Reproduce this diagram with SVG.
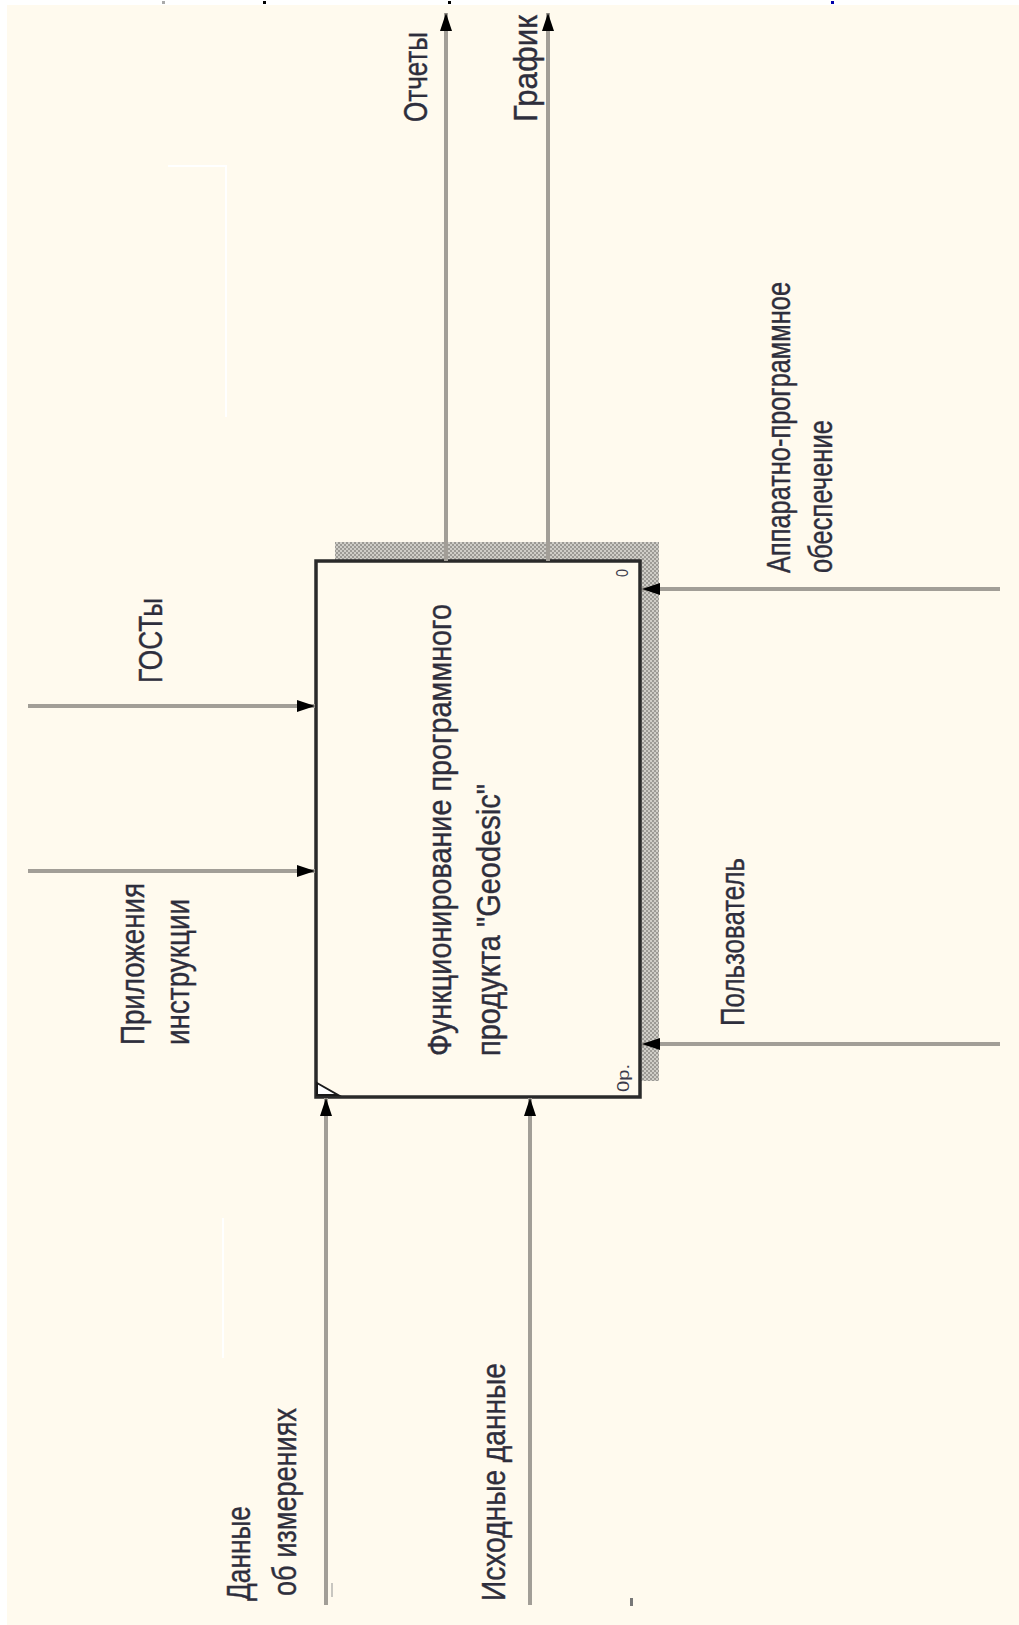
<svg xmlns="http://www.w3.org/2000/svg" width="1019" height="1625" viewBox="0 0 1019 1625">
  <defs>
    <pattern id="checker" width="4" height="4" patternUnits="userSpaceOnUse">
      <rect width="4" height="4" fill="#cfcdc7"/>
      <rect width="2" height="2" fill="#9c9a95"/>
      <rect x="2" y="2" width="2" height="2" fill="#9c9a95"/>
    </pattern>
    <marker id="arrow" viewBox="0 0 18 12" markerWidth="18" markerHeight="12" refX="18" refY="6" orient="auto" markerUnits="userSpaceOnUse">
      <path d="M0,0 L18,6 L0,12 Z" fill="#000"/>
    </marker>
    <style>
      .lbl { font-family: "Liberation Sans", Arial, sans-serif; font-size: 34px; fill: #2e2e3c; stroke: #2e2e3c; stroke-width: 0.4; }
      .num { font-family: "Liberation Sans", Arial, sans-serif; font-size: 16px; fill: #3a3a4a; }
      .conn { fill: none; stroke: #a29e97; stroke-width: 4; marker-end: url(#arrow); }
      .faint { fill: none; stroke: #ffffff; stroke-width: 2; }
    </style>
  </defs>

  <!-- page background -->
  <rect x="0" y="0" width="1019" height="1625" fill="#ffffff"/>
  <rect x="7" y="5" width="1012" height="1620" fill="#fffaee"/>

  <!-- small marks at the top edge -->
  <g id="top-marks">
    <rect x="162" y="1" width="3" height="3" fill="#aaaaaa"/>
    <rect x="263" y="1" width="3" height="3" fill="#000000"/>
    <rect x="448" y="1" width="3" height="3" fill="#000000"/>
    <rect x="831" y="1" width="3" height="3" fill="#0000aa"/>
  </g>

  <!-- faint artefacts -->
  <g id="artefacts">
    <path class="faint" d="M168,166 H226 V417"/>
    <path class="faint" d="M467,700 V835" stroke-dasharray="8 5"/>
    <path class="faint" d="M223,1218 V1358"/>
    <rect x="331" y="1583" width="2" height="14" fill="#c8c6c0"/>
    <rect x="630" y="1598" width="3" height="8" fill="#777777"/>
  </g>

  <!-- activity box A0 -->
  <g id="node-a0">
    <rect x="335" y="542" width="324" height="539" fill="url(#checker)"/>
    <rect x="316" y="561" width="324" height="536" fill="#fffaee" stroke="#2a2a2a" stroke-width="3.5"/>
    <path d="M317,1083 L338,1095 L317,1095 Z" fill="#ffffff" stroke="#1a1a1a" stroke-width="2"/>
    <text class="lbl" transform="translate(451,1056) rotate(-90)" textLength="452" lengthAdjust="spacingAndGlyphs">Функционирование программного</text>
    <text class="lbl" transform="translate(500,1056) rotate(-90)" textLength="272" lengthAdjust="spacingAndGlyphs">продукта "Geodesic"</text>
    <text class="num" transform="translate(628,577) rotate(-90)" textLength="8" lengthAdjust="spacingAndGlyphs">0</text>
    <text class="num" transform="translate(629,1092) rotate(-90)" textLength="28" lengthAdjust="spacingAndGlyphs">0р.</text>
  </g>

  <!-- connectors -->
  <g id="connectors">
    <!-- outputs (top) -->
    <path class="conn" d="M446,561 V13"/>
    <path class="conn" d="M548,561 V13"/>
    <!-- controls (left) -->
    <path class="conn" d="M28,706 H315"/>
    <path class="conn" d="M28,871 H315"/>
    <!-- inputs (bottom) -->
    <path class="conn" d="M326,1605 V1098"/>
    <path class="conn" d="M530,1605 V1098"/>
    <!-- mechanisms (right) -->
    <path class="conn" d="M1000,589 H642"/>
    <path class="conn" d="M1000,1044 H642"/>
  </g>

  <!-- arrow labels -->
  <g id="label-otchety">
    <text class="lbl" transform="translate(427,122) rotate(-90)" textLength="90" lengthAdjust="spacingAndGlyphs">Отчеты</text>
  </g>
  <g id="label-grafik">
    <text class="lbl" transform="translate(537,122) rotate(-90)" textLength="107" lengthAdjust="spacingAndGlyphs">График</text>
  </g>
  <g id="label-gosty">
    <text class="lbl" transform="translate(162,683) rotate(-90)" textLength="85" lengthAdjust="spacingAndGlyphs">ГОСТы</text>
  </g>
  <g id="label-prilozheniya">
    <text class="lbl" transform="translate(144,1045) rotate(-90)" textLength="162" lengthAdjust="spacingAndGlyphs">Приложения</text>
    <text class="lbl" transform="translate(189,1045) rotate(-90)" textLength="146" lengthAdjust="spacingAndGlyphs">инструкции</text>
  </g>
  <g id="label-dannye">
    <text class="lbl" transform="translate(250,1601) rotate(-90)" textLength="95" lengthAdjust="spacingAndGlyphs">Данные</text>
    <text class="lbl" transform="translate(296,1596) rotate(-90)" textLength="188" lengthAdjust="spacingAndGlyphs">об измерениях</text>
  </g>
  <g id="label-ishodnye">
    <text class="lbl" transform="translate(505,1601) rotate(-90)" textLength="238" lengthAdjust="spacingAndGlyphs">Исходные данные</text>
  </g>
  <g id="label-polzovatel">
    <text class="lbl" transform="translate(744,1026) rotate(-90)" textLength="168" lengthAdjust="spacingAndGlyphs">Пользователь</text>
  </g>
  <g id="label-apparatno">
    <text class="lbl" transform="translate(790,573) rotate(-90)" textLength="291" lengthAdjust="spacingAndGlyphs">Аппаратно-программное</text>
    <text class="lbl" transform="translate(832,573) rotate(-90)" textLength="153" lengthAdjust="spacingAndGlyphs">обеспечение</text>
  </g>
</svg>
